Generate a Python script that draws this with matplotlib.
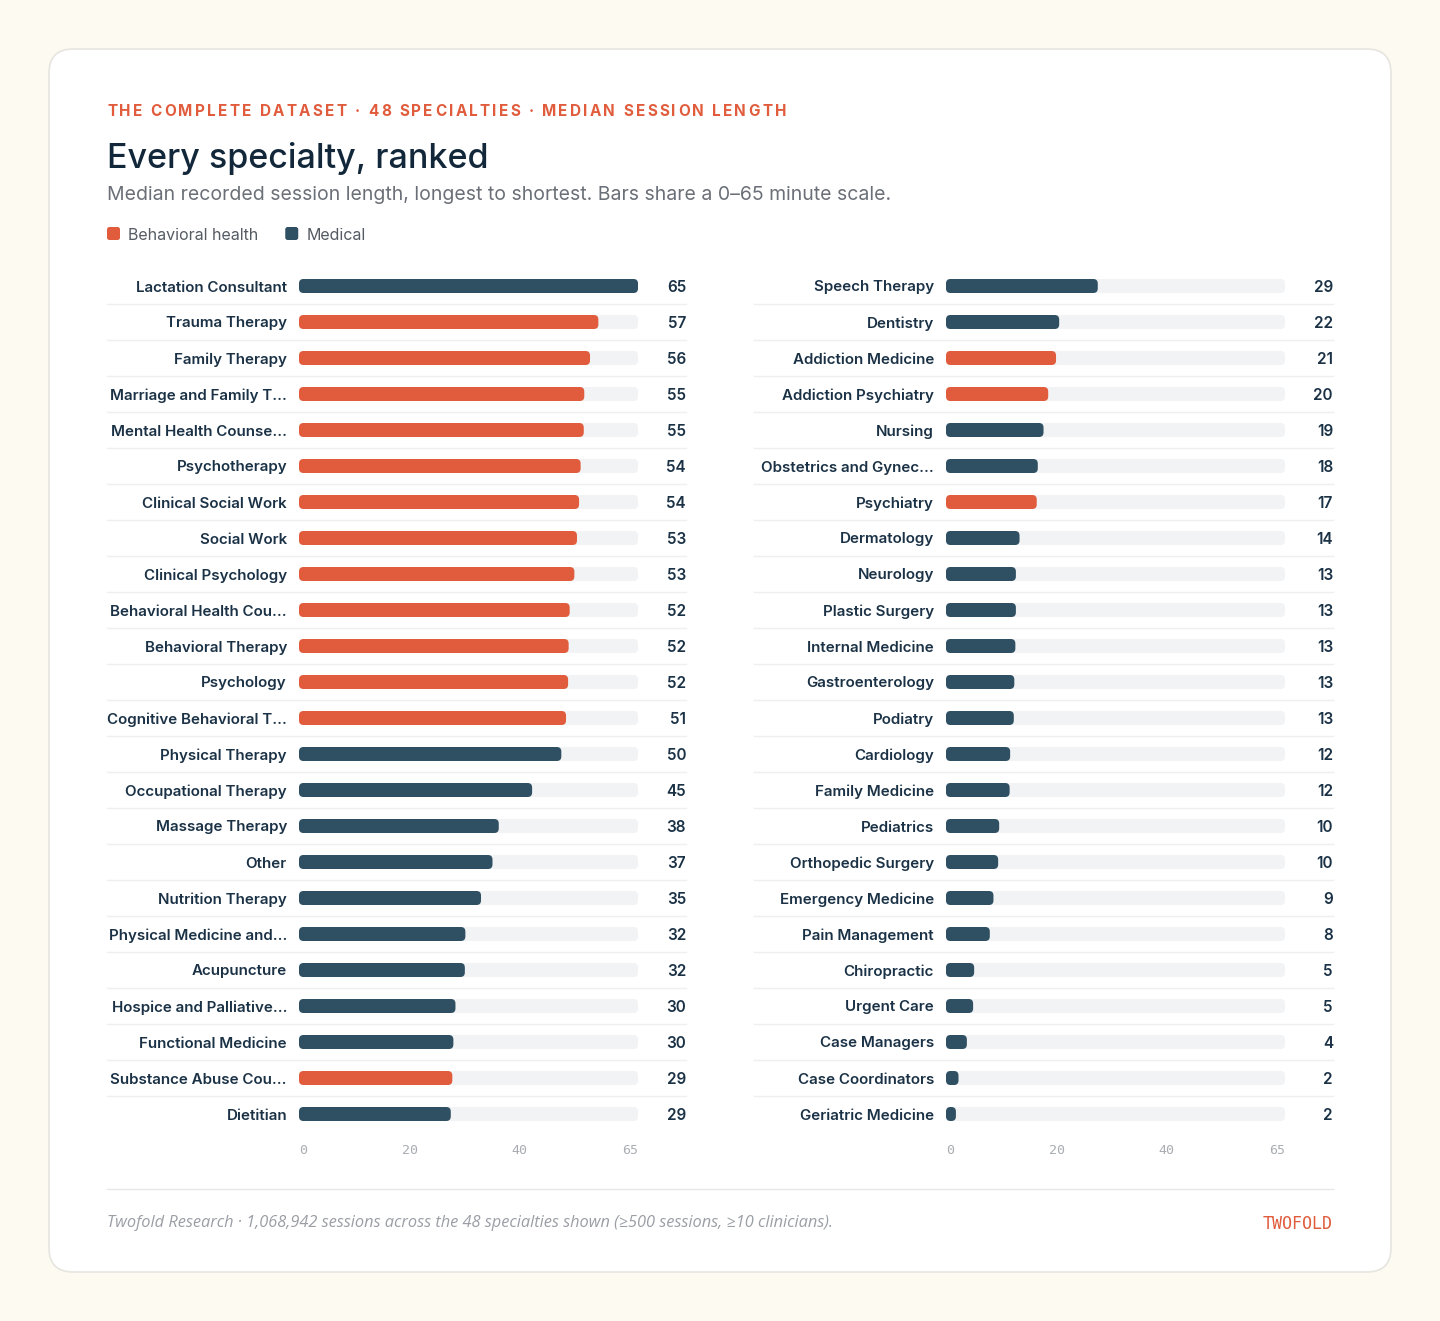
import matplotlib as mpl
mpl.use("Agg")
import numpy as np
import matplotlib.pyplot as plt
from matplotlib.patches import FancyBboxPatch
from matplotlib import transforms
from matplotlib.font_manager import FontProperties

# data: median session length (minutes), group B = behavioral health, M = medical
left_names = ["Lactation Consultant", "Trauma Therapy", "Family Therapy",
              "Marriage and Family T\u2026", "Mental Health Counse\u2026", "Psychotherapy",
              "Clinical Social Work", "Social Work", "Clinical Psychology",
              "Behavioral Health Cou\u2026", "Behavioral Therapy", "Psychology",
              "Cognitive Behavioral T\u2026", "Physical Therapy", "Occupational Therapy",
              "Massage Therapy", "Other", "Nutrition Therapy", "Physical Medicine and\u2026",
              "Acupuncture", "Hospice and Palliative\u2026", "Functional Medicine",
              "Substance Abuse Cou\u2026", "Dietitian"]
left_values = [65.0, 57.4, 55.8, 54.7, 54.6, 54.0, 53.7, 53.3, 52.8, 51.9, 51.7, 51.6,
               51.2, 50.3, 44.7, 38.3, 37.1, 34.9, 31.9, 31.8, 30.0, 29.6, 29.4, 29.1]
left_groups = ["M", "B", "B", "B", "B", "B", "B", "B", "B", "B", "B", "B",
               "B", "M", "M", "M", "M", "M", "M", "M", "M", "M", "B", "M"]

right_names = ["Speech Therapy", "Dentistry", "Addiction Medicine", "Addiction Psychiatry",
               "Nursing", "Obstetrics and Gynec\u2026", "Psychiatry", "Dermatology",
               "Neurology", "Plastic Surgery", "Internal Medicine", "Gastroenterology",
               "Podiatry", "Cardiology", "Family Medicine", "Pediatrics",
               "Orthopedic Surgery", "Emergency Medicine", "Pain Management",
               "Chiropractic", "Urgent Care", "Case Managers", "Case Coordinators",
               "Geriatric Medicine"]
right_values = [29.1, 21.7, 21.1, 19.6, 18.7, 17.6, 17.4, 14.1, 13.4, 13.4, 13.3, 13.1,
                13.0, 12.3, 12.2, 10.2, 10.0, 9.1, 8.4, 5.4, 5.2, 4.0, 2.4, 1.9]
right_groups = ["M", "M", "B", "B", "M", "M", "B", "M", "M", "M", "M", "M",
                "M", "M", "M", "M", "M", "M", "M", "M", "M", "M", "M", "M"]

scale_max = 65
tick_labels = ["0", "20", "40", "65"]
legend_labels = ["Behavioral health", "Medical"]

BG = "#FDFAF2"
ORANGE = "#E05C3C"
NAVY = "#2F4F62"
TITLE = "#12283A"
LABEL = "#1B3246"
SUB = "#6B7078"
TRACK = "#F2F3F5"
SEP = "#EFEFEF"
colors = {"B": ORANGE, "M": NAVY}

W, H = 1440, 1321
FONT = ["Inter", "DejaVu Sans"]
plt.rcParams["font.family"] = FONT

fig = plt.figure(figsize=(W / 100, H / 100), dpi=100, facecolor=BG)

# pixel-space background axes
bg = fig.add_axes([0, 0, 1, 1])
bg.set_xlim(0, W)
bg.set_ylim(H, 0)
bg.axis("off")
bg.set_zorder(-1)

card = FancyBboxPatch((49, 49), 1342, 1223, boxstyle="round,pad=0,rounding_size=24",
                      facecolor="white", edgecolor="#E7E5E0", linewidth=1.2)
bg.add_patch(card)

renderer = fig.canvas.get_renderer()


def tracked_text(x, y, s, width, **kw):
    fp = FontProperties(family=kw.get("family", FONT), size=kw.get("fontsize"),
                        weight=kw.get("fontweight", "normal"))
    def w_of(t):
        return renderer.get_text_width_height_descent(t, fp, ismath=False)[0]
    space = w_of("a a") - w_of("aa")
    widths = [space if c == " " else w_of(c) for c in s]
    track = (width - sum(widths)) / (len(s) - 1)
    for c, w in zip(s, widths):
        if c != " ":
            bg.text(x, y, c, ha="left", va="center", **kw)
        x += w + track


tracked_text(107, 111, "THE COMPLETE DATASET \u00b7 48 SPECIALTIES \u00b7 MEDIAN SESSION LENGTH",
             679, fontsize=11, fontweight="bold", color=ORANGE)
bg.text(107, 168, "Every specialty, ranked", fontsize=24.5, fontweight="medium",
        color=TITLE, ha="left", va="baseline")
bg.text(107, 200, "Median recorded session length, longest to shortest. "
        "Bars share a 0\u201365 minute scale.", fontsize=14, color=SUB,
        ha="left", va="baseline")

# legend
lx = 107
for lab, key in zip(legend_labels, ["B", "M"]):
    bg.add_patch(FancyBboxPatch((lx, 227), 13, 13, boxstyle="round,pad=0,rounding_size=2.5",
                                facecolor=colors[key], edgecolor="none"))
    t = bg.text(lx + 21, 233.5, lab, fontsize=11.5, color="#555B63", ha="left",
                va="center_baseline")
    lx += 21 + t.get_window_extent(renderer).width + 27

# footer
bg.plot([107, 1333], [1189, 1189], color="#E6E7EA", lw=1)
bg.text(107, 1221, "Twofold Research \u00b7 1,068,942 sessions across the 48 specialties shown "
        "(\u2265500 sessions, \u226510 clinicians).", fontsize=11.8, style="italic",
        color="#9A9EA5", ha="left", va="center_baseline",
        family=["Open Sans", "DejaVu Sans"])
bg.text(1333, 1222, "TWOFOLD", fontsize=12, color=ORANGE, ha="right",
        va="center_baseline", family="DejaVu Sans Mono")

ROW = 36
TOP = 268
BAR_W = 339


def draw_panel(x0, names, values, groups):
    n = len(names)
    ax = fig.add_axes([x0 / W, 1 - (TOP + n * ROW) / H, BAR_W / W, n * ROW / H])
    ax.set_xlim(0, scale_max)
    ax.set_ylim(n - 0.5, -0.5)
    for s in ax.spines.values():
        s.set_visible(False)
    ax.set_yticks([])
    ax.patch.set_alpha(0)

    px_x = BAR_W / scale_max
    aspect = (1 / ROW) / (1 / px_x)
    bar_h = 14 / ROW
    r = 4.5 / px_x

    for i, (v, g) in enumerate(zip(values, groups)):
        ax.add_patch(FancyBboxPatch((0, i - bar_h / 2), scale_max, bar_h,
                                    boxstyle=f"round,pad=0,rounding_size={r}",
                                    mutation_aspect=aspect, facecolor=TRACK,
                                    edgecolor="none", zorder=1))
        ax.add_patch(FancyBboxPatch((0, i - bar_h / 2), v, bar_h,
                                    boxstyle=f"round,pad=0,rounding_size={min(r, v / 2)}",
                                    mutation_aspect=aspect, facecolor=colors[g],
                                    edgecolor="none", zorder=2))
        ax.annotate(names[i], xy=(0, i), xytext=(-12, 0), textcoords="offset pixels",
                    ha="right", va="center_baseline", fontsize=10.9, fontweight="semibold",
                    color=LABEL, annotation_clip=False)
        ax.annotate(f"{round(v)}", xy=(1, i), xycoords=("axes fraction", "data"),
                    xytext=(48, 0), textcoords="offset pixels", ha="right",
                    va="center_baseline", fontsize=11, fontweight="semibold",
                    color=LABEL, annotation_clip=False)

    # row separators
    trans = transforms.blended_transform_factory(ax.transAxes, ax.transData)
    for i in range(n - 1):
        ax.plot([-192 / BAR_W, (BAR_W + 48) / BAR_W], [i + 0.5, i + 0.5],
                transform=trans, color=SEP, lw=1, clip_on=False, zorder=0)

    # scale labels, spread edge to edge
    ax.set_xticks([0, 21.2, 42.2, scale_max], tick_labels)
    ax.tick_params(axis="x", length=0, pad=9, labelsize=9.5, labelcolor="#A9ADB3")
    for t in ax.get_xticklabels():
        t.set_family("DejaVu Sans Mono")
    ax.get_xticklabels()[0].set_ha("left")
    ax.get_xticklabels()[-1].set_ha("right")
    return ax


draw_panel(299, left_names, left_values, left_groups)
draw_panel(946, right_names, right_values, right_groups)

fig.savefig("out.png", dpi=100, facecolor=BG)
